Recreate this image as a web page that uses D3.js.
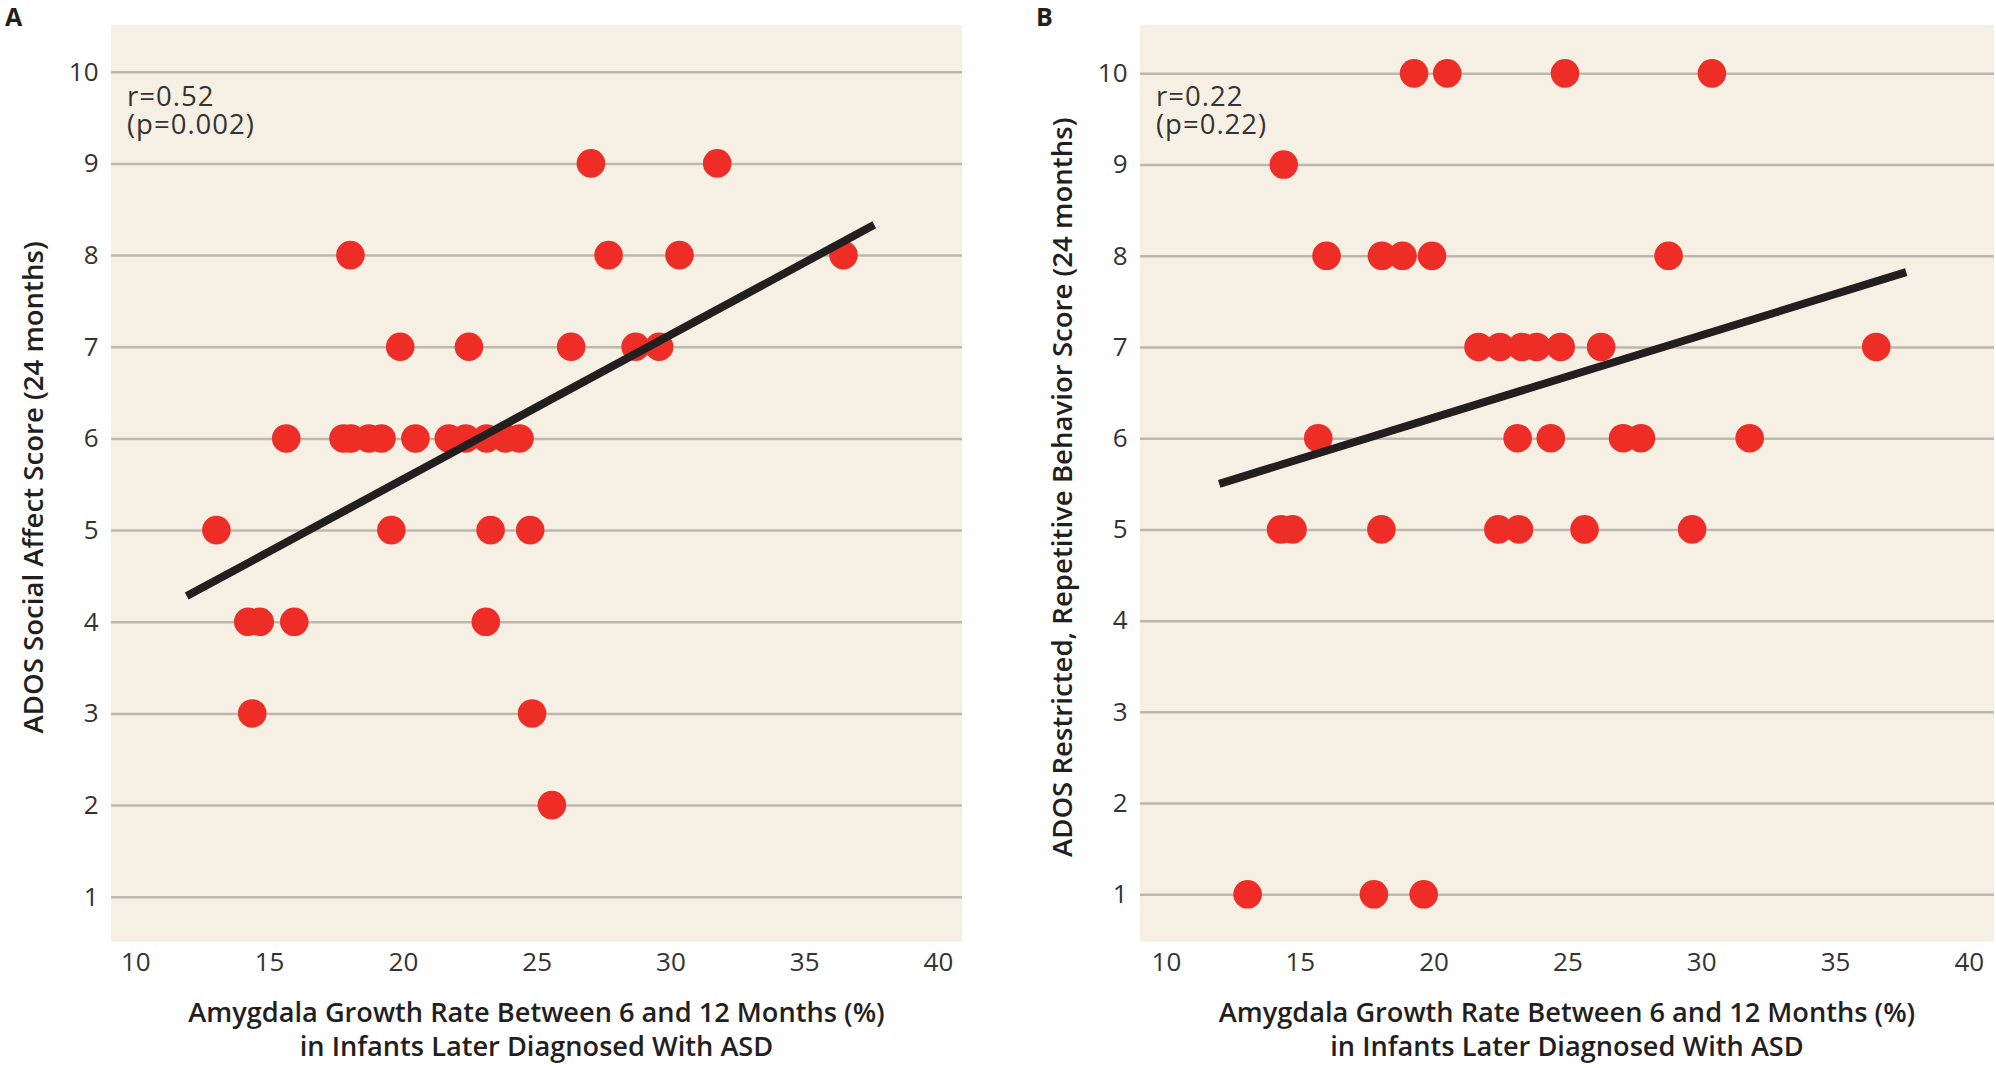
<!DOCTYPE html>
<html>
<head>
<meta charset="utf-8">
<script src="https://cdn.jsdelivr.net/npm/d3@7"></script>
<style>
  html, body { margin: 0; padding: 0; background: #ffffff; }
  svg { display: block; }
  text { font-family: "Open Sans", Lato, "DejaVu Sans", sans-serif; }
</style>
</head>
<body>
<svg id="chart" width="1996" height="1068"></svg>
<script>
// ---------- data ----------
const xTicks = [10, 15, 20, 25, 30, 35, 40];
const yTicks = [1, 2, 3, 4, 5, 6, 7, 8, 9, 10];

const panelLabels = ["A", "B"];
const yTitles = ["ADOS Social Affect Score (24 months)",
                 "ADOS Restricted, Repetitive Behavior Score (24 months)"];
const xTitleLines = ["Amygdala Growth Rate Between 6 and 12 Months (%)",
                     "in Infants Later Diagnosed With ASD"];
const statsA = ["r=0.52", "(p=0.002)"];
const statsB = ["r=0.22", "(p=0.22)"];

// Panel A: growth rate (%) and ADOS social affect score
const growthA = [27.03, 31.75,
                 18.04, 27.69, 30.34, 36.47,
                 19.90, 22.47, 26.29, 28.70, 29.58,
                 15.64, 17.78, 18.06, 18.73, 19.20, 20.47, 21.72, 22.35, 23.13, 23.84, 24.36,
                 13.03, 19.57, 23.28, 24.76,
                 14.22, 14.65, 15.94, 23.10,
                 14.37, 24.83,
                 25.57];
const scoreA  = [9, 9,
                 8, 8, 8, 8,
                 7, 7, 7, 7, 7,
                 6, 6, 6, 6, 6, 6, 6, 6, 6, 6, 6,
                 5, 5, 5, 5,
                 4, 4, 4, 4,
                 3, 3,
                 2];

// Panel B: growth rate (%) and ADOS restricted, repetitive behavior score
const growthB = [19.27, 20.51, 24.91, 30.40,
                 14.40,
                 16.00, 18.07, 18.84, 19.94, 28.78,
                 21.68, 22.48, 23.30, 23.85, 24.75, 26.26, 36.54,
                 15.69, 23.14, 24.38, 27.08, 27.75, 31.81,
                 14.30, 14.73, 18.05, 22.42, 23.19, 25.64, 29.66,
                 13.05, 17.77, 19.63];
const scoreB  = [10, 10, 10, 10,
                 9,
                 8, 8, 8, 8, 8,
                 7, 7, 7, 7, 7, 7, 7,
                 6, 6, 6, 6, 6, 6,
                 5, 5, 5, 5, 5, 5, 5,
                 1, 1, 1];

// regression line end points [growth, score]
const trendA = [[11.92, 4.28], [37.62, 8.33]];
const trendB = [[11.99, 5.50], [37.66, 7.82]];

// ---------- layout ----------
const svg = d3.select("#chart");
const C = {
  bg: "#f6f0e4", grid: "#bcb7af", dot: "#ee2e26", line: "#231f20",
  tick: "#333333", title: "#231f20"
};

const panels = [
  { label: panelLabels[0], labelX: 5, left: 111, right: 962,
    xDom: [9.09, 40.9], yDom: [0.51, 10.51],
    growth: growthA, score: scoreA, trend: trendA, stats: statsA, yTitle: yTitles[0] },
  { label: panelLabels[1], labelX: 1036, left: 1140, right: 1994,
    xDom: [9.03, 40.94], yDom: [0.48, 10.53],
    growth: growthB, score: scoreB, trend: trendB, stats: statsB, yTitle: yTitles[1] }
];
const plotTop = 25, plotBottom = 941.7;
const FONT = "'Open Sans', Lato, sans-serif";

panels.forEach(p => {
  const g = svg.append("g");
  const x = d3.scaleLinear().domain(p.xDom).range([p.left, p.right]);
  const y = d3.scaleLinear().domain(p.yDom).range([plotBottom, plotTop]);
  const w = p.right - p.left;

  // panel label
  g.append("text").attr("x", p.labelX).attr("y", 25.5)
    .attr("font-size", 25).attr("font-weight", 700).attr("fill", C.title)
    .text(p.label);

  // background
  g.append("rect").attr("x", p.left).attr("y", plotTop)
    .attr("width", w).attr("height", plotBottom - plotTop).attr("fill", C.bg);

  // y axis with gridlines
  const ya = g.append("g").attr("transform", `translate(${p.left},0)`)
    .call(d3.axisLeft(y).tickValues(yTicks).tickSize(-w).tickPadding(12.5));
  ya.select(".domain").remove();
  ya.selectAll(".tick line").attr("stroke", C.grid).attr("stroke-width", 2.5);
  ya.selectAll(".tick text").attr("font-size", 26).attr("fill", C.tick)
    .attr("font-family", FONT);

  // x axis labels
  const xa = g.append("g").attr("transform", `translate(0,${plotBottom})`)
    .call(d3.axisBottom(x).tickValues(xTicks).tickSize(0).tickPadding(11));
  xa.select(".domain").remove();
  xa.selectAll(".tick text").attr("font-size", 26).attr("fill", C.tick)
    .attr("font-family", FONT);

  // dots
  const pts = p.growth.map((v, i) => [v, p.score[i]]);
  g.append("g").selectAll("circle").data(pts).join("circle")
    .attr("cx", d => x(d[0])).attr("cy", d => y(d[1]))
    .attr("r", 14.3).attr("fill", C.dot);

  // regression line
  g.append("path")
    .attr("d", d3.line().x(d => x(d[0])).y(d => y(d[1]))(p.trend))
    .attr("stroke", C.line).attr("stroke-width", 8).attr("fill", "none");

  // stats annotation (one text block, two lines)
  const st = g.append("text").attr("x", p.left + 16).attr("y", 106)
    .attr("font-size", 27.5).attr("letter-spacing", 1).attr("fill", C.tick);
  p.stats.forEach((s, i) => {
    st.append("tspan").attr("x", p.left + 16).attr("dy", i === 0 ? 0 : 28).text(s);
  });

  // x title
  xTitleLines.forEach((s, i) => {
    g.append("text").attr("x", (p.left + p.right) / 2).attr("y", 1021.5 + i * 34.5)
      .attr("text-anchor", "middle").attr("font-size", 27.2).attr("font-weight", 600)
      .attr("fill", C.title).text(s);
  });

  // y title
  const cy = (plotTop + plotBottom) / 2 + 4;
  g.append("text")
    .attr("transform", `translate(${p.left - 68},${cy}) rotate(-90)`)
    .attr("text-anchor", "middle").attr("font-size", 27.6).attr("font-weight", 600)
    .attr("fill", C.title).text(p.yTitle);
});
</script>
</body>
</html>
